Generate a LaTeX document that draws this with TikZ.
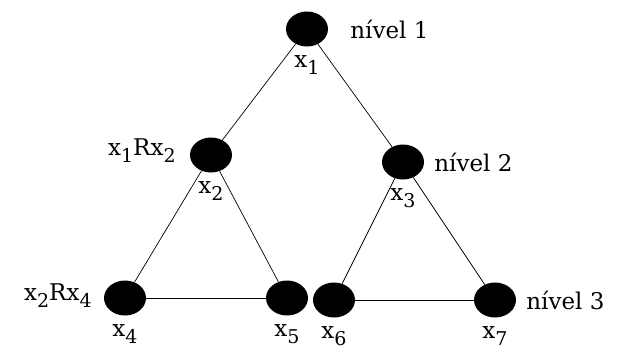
\documentclass[tikz,border=0pt]{standalone}
\usepackage{fontspec}
\setmainfont{DejaVu Serif}
\usetikzlibrary{positioning, shapes.geometric}

\newcommand\lowidx[1]{\raisebox{-7pt}{\fontsize{19}{19}\selectfont #1}}

\begin{document}
\begin{tikzpicture}[
    x=1pt, y=-1pt,
    dot/.style={ellipse, fill=black, minimum width=42pt, minimum height=35pt, inner sep=0pt},
    lbl/.style={inner sep=0pt, font=\fontsize{23}{28}\selectfont},
    edge/.style={line width=0.7pt}
]
\useasboundingbox (0,0) rectangle (619,349);

% nodes of the tree
\node[dot] (x1) at (307,29) {};
\node[dot] (x2) at (211,155) {};
\node[dot] (x3) at (403,162) {};
\node[dot] (x4) at (125,298) {};
\node[dot] (x5) at (287,298) {};
\node[dot] (x6) at (334,300) {};
\node[dot] (x7) at (495,300) {};

% names below the nodes
\node[lbl, below=9pt of x1] (n1) {x\lowidx{1}};
\node[lbl, below=9pt of x2] (n2) {x\lowidx{2}};
\node[lbl, below=9pt of x3] (n3) {x\lowidx{3}};
\node[lbl, below=9pt of x4] (n4) {x\lowidx{4}};
\node[lbl, below=9pt of x5] (n5) {x\lowidx{5}};
\node[lbl, below=9pt of x6] (n6) {x\lowidx{6}};
\node[lbl, below=9pt of x7] (n7) {x\lowidx{7}};

% levels and relations
\node[lbl, right=22pt of x1] (lev1) {nível 1};
\node[lbl, right=10pt of x3] (lev2) {nível 2};
\node[lbl, right=10pt of x7] (lev3) {nível 3};
\node[lbl, left=14pt of x2, anchor=base east] (r12) {x\lowidx{1}Rx\lowidx{2}};
\node[lbl, left=12pt of x4, anchor=base east, yshift=-2pt] (r24) {x\lowidx{2}Rx\lowidx{4}};

\draw[edge] (x1) -- (x2);
\draw[edge] (x1) -- (x3);
\draw[edge] (x2) -- (x4);
\draw[edge] (x2) -- (x5);
\draw[edge] (x4) -- (x5);
\draw[edge] (x3) -- (x6);
\draw[edge] (x3) -- (x7);
\draw[edge] (x6) -- (x7);
\end{tikzpicture}
\end{document}
